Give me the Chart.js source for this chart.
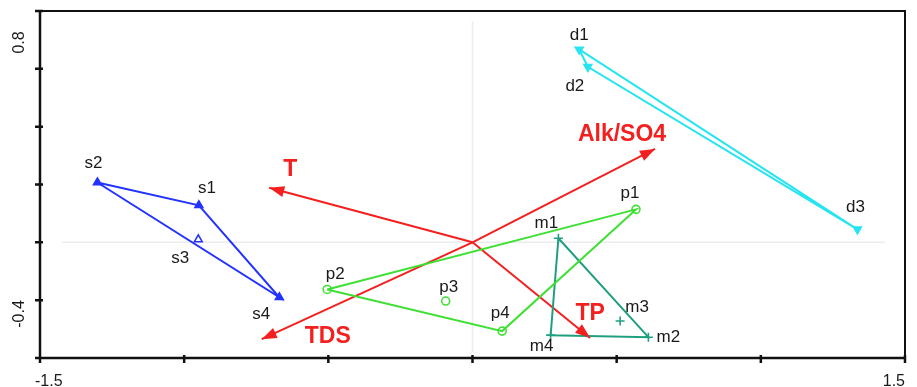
<!DOCTYPE html>
<html>
<head>
<meta charset="utf-8">
<script src="https://cdn.jsdelivr.net/npm/chart.js@4.4.1/dist/chart.umd.min.js"></script>
<style>
  html, body { margin: 0; padding: 0; background: #fff; }
</style>
</head>
<body>
<canvas id="chart" width="917" height="387"></canvas>
<script>
// axis end labels
const xTickLabels = [-1.5, 1.5];
const yTickLabels = [-0.4, 0.8];

// s samples (hull order by index)
const sNames = ['s1', 's2', 's3', 's4'];
const sX = [-0.949, -1.301, -0.951, -0.670];
const sY = [0.128, 0.207, 0.010, -0.190];
const sHull = [1, 0, 3, 1];

// p samples
const pNames = ['p1', 'p2', 'p3', 'p4'];
const pX = [0.567, -0.504, -0.093, 0.103];
const pY = [0.114, -0.163, -0.203, -0.307];
const pHull = [1, 0, 3, 1];

// m samples
const mNames = ['m1', 'm2', 'm3', 'm4'];
const mX = [0.298, 0.610, 0.512, 0.271];
const mY = [0.014, -0.328, -0.272, -0.321];
const mHull = [0, 1, 3, 0];

// d samples
const dNames = ['d1', 'd2', 'd3'];
const dX = [0.370, 0.400, 1.335];
const dY = [0.667, 0.607, 0.045];
const dHull = [0, 2, 1, 0];

// environmental arrows (tips, from origin)
const envNames = ['T', 'TDS', 'Alk/SO4', 'TP'];
const envX = [-0.705, -0.731, 0.633, 0.408];
const envY = [0.189, -0.335, 0.323, -0.331];

const RED = '#f41f1f';
const groups = [
    {names: sNames, xs: sX, ys: sY, hull: sHull, color: '#2233ff', style: 'triangle', rot: 0, radius: 4.5},
    {names: pNames, xs: pX, ys: pY, hull: pHull, color: '#3fe034', style: 'circle', rot: 0, radius: 4},
    {names: mNames, xs: mX, ys: mY, hull: mHull, color: '#1f9f80', style: 'cross', rot: 0, radius: 4.5},
    {names: dNames, xs: dX, ys: dY, hull: dHull, color: '#26e4f0', style: 'triangle', rot: 180, radius: 4.5}
];

const datasets = [];
groups.forEach(g => {
    datasets.push({
        data: g.hull.map(i => ({x: g.xs[i], y: g.ys[i]})),
        showLine: true,
        borderColor: g.color,
        borderWidth: 2,
        pointRadius: 0
    });
    datasets.push({
        data: g.xs.map((x, i) => ({x: x, y: g.ys[i]})),
        showLine: false,
        pointStyle: g.style,
        rotation: g.rot,
        pointRadius: g.radius,
        pointBorderWidth: 1.6,
        pointBorderColor: g.color,
        pointBackgroundColor: c => (g.style === 'triangle' && g.hull.includes(c.dataIndex)) ? g.color : '#fff'
    });
});
envNames.forEach((n, i) => {
    datasets.push({
        data: [{x: 0, y: 0}, {x: envX[i], y: envY[i]}],
        showLine: true,
        borderColor: RED,
        borderWidth: 2,
        pointRadius: 0
    });
});

// label offsets in pixels (text centre relative to point)
const labelOffsets = {
    s1: [8, -17], s2: [-4, -19], s3: [-18, 19], s4: [-18, 17],
    p1: [-6, -16], p2: [8, -15], p3: [3, -14], p4: [-2, -18],
    m1: [-12, -15], m2: [20, 0], m3: [17, -14], m4: [-9, 11],
    d1: [0, -14], d2: [-13, 20], d3: [-2, -22],
    'T': [21, -18], 'TDS': [66, -3], 'Alk/SO4': [-33, -14], 'TP': [0, -24]
};

const ordiPlugin = {
    id: 'ordi',
    beforeDatasetsDraw(chart) {
        const {ctx, chartArea: a, scales: {x, y}} = chart;
        const x0 = x.getPixelForValue(0), y0 = y.getPixelForValue(0);
        ctx.save();
        ctx.strokeStyle = '#ececec';
        ctx.lineWidth = 1.5;
        ctx.beginPath();
        ctx.moveTo(a.left + 22, y0); ctx.lineTo(a.right - 20, y0);
        ctx.moveTo(x0, a.top + 10); ctx.lineTo(x0, a.bottom - 6);
        ctx.stroke();
        ctx.restore();
    },
    afterDatasetsDraw(chart) {
        const {ctx, chartArea: a, scales: {x, y}} = chart;
        const ox = x.getPixelForValue(0), oy = y.getPixelForValue(0);
        ctx.save();

        // arrow heads
        ctx.fillStyle = RED;
        envNames.forEach((n, i) => {
            const tx = x.getPixelForValue(envX[i]), ty = y.getPixelForValue(envY[i]);
            const ang = Math.atan2(ty - oy, tx - ox);
            const L = 15, W = 5.5;
            const bx = tx - L * Math.cos(ang), by = ty - L * Math.sin(ang);
            ctx.beginPath();
            ctx.moveTo(tx, ty);
            ctx.lineTo(bx + W * Math.sin(ang), by - W * Math.cos(ang));
            ctx.lineTo(bx - W * Math.sin(ang), by + W * Math.cos(ang));
            ctx.closePath();
            ctx.fill();
        });

        // frame and ticks
        ctx.strokeStyle = '#111';
        ctx.lineWidth = 2;
        ctx.strokeRect(a.left, a.top, a.right - a.left, a.bottom - a.top);
        ctx.lineWidth = 2.5;
        ctx.beginPath();
        ctx.moveTo(a.left, a.top); ctx.lineTo(a.left, a.bottom); ctx.lineTo(a.right, a.bottom);
        x.ticks.forEach(t => {
            const px = x.getPixelForValue(t.value);
            ctx.moveTo(px, a.bottom - 3); ctx.lineTo(px, a.bottom + 5);
        });
        y.ticks.forEach(t => {
            const py = y.getPixelForValue(t.value);
            ctx.moveTo(a.left - 5, py); ctx.lineTo(a.left + 3, py);
        });
        ctx.stroke();

        // sample labels
        ctx.textAlign = 'center';
        ctx.textBaseline = 'middle';
        ctx.fillStyle = '#1a1a1a';
        ctx.font = '17px "Liberation Sans", Arial, sans-serif';
        groups.forEach(g => {
            g.names.forEach((n, i) => {
                const o = labelOffsets[n];
                ctx.fillText(n, x.getPixelForValue(g.xs[i]) + o[0], y.getPixelForValue(g.ys[i]) + o[1]);
            });
        });

        // arrow labels
        ctx.fillStyle = RED;
        ctx.font = 'bold 23px "Liberation Sans", Arial, sans-serif';
        envNames.forEach((n, i) => {
            const o = labelOffsets[n];
            ctx.fillText(n, x.getPixelForValue(envX[i]) + o[0], y.getPixelForValue(envY[i]) + o[1]);
        });

        // axis end labels
        ctx.fillStyle = '#1a1a1a';
        ctx.font = '16px "Liberation Sans", Arial, sans-serif';
        ctx.textBaseline = 'alphabetic';
        ctx.textAlign = 'left';
        ctx.fillText(String(xTickLabels[0]), x.getPixelForValue(xTickLabels[0]) - 5, a.bottom + 28);
        ctx.textAlign = 'right';
        ctx.fillText(String(xTickLabels[1]), x.getPixelForValue(xTickLabels[1]), a.bottom + 28);
        ctx.textAlign = 'center';
        ctx.textBaseline = 'middle';
        [[yTickLabels[0], -44], [yTickLabels[1], 31.5]].forEach(([v, off]) => {
            ctx.save();
            ctx.translate(20, y.getPixelForValue(v) + off);
            ctx.rotate(-Math.PI / 2);
            ctx.fillText(String(v), 0, 0);
            ctx.restore();
        });
        ctx.restore();
    }
};

new Chart(document.getElementById('chart').getContext('2d'), {
    type: 'scatter',
    data: {datasets: datasets},
    options: {
        responsive: false,
        animation: false,
        layout: {padding: {left: 40, top: 11, right: 12, bottom: 29}},
        elements: {line: {tension: 0}},
        plugins: {legend: {display: false}, tooltip: {enabled: false}},
        scales: {
            x: {
                type: 'linear', min: -1.5, max: 1.5,
                ticks: {display: false, stepSize: 0.5},
                grid: {display: false, drawTicks: false}, border: {display: false}
            },
            y: {
                type: 'linear', min: -0.4, max: 0.8,
                ticks: {display: false, stepSize: 0.2},
                grid: {display: false, drawTicks: false}, border: {display: false}
            }
        }
    },
    plugins: [ordiPlugin]
});
</script>
</body>
</html>
